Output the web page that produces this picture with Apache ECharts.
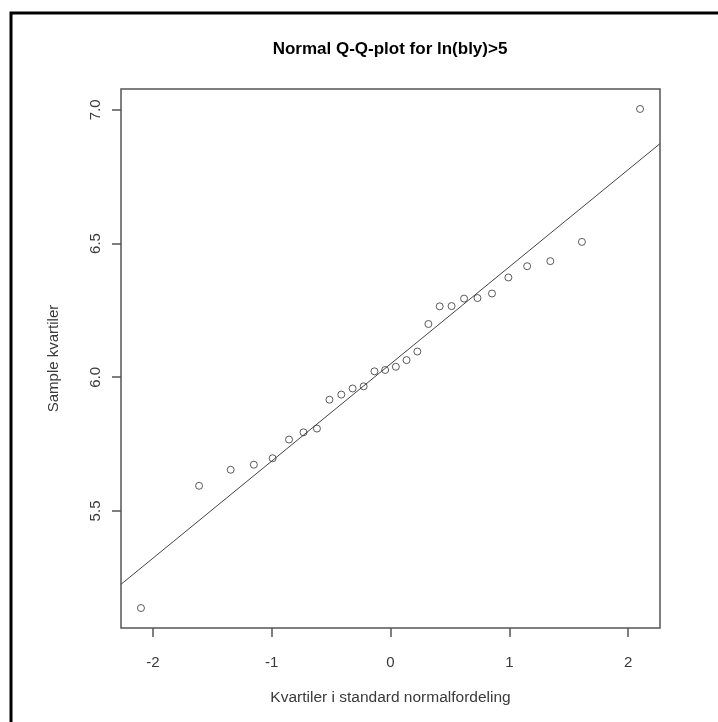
<!DOCTYPE html>
<html>
<head>
<meta charset="utf-8">
<title>Normal Q-Q-plot for ln(bly)>5</title>
<script src="https://cdn.jsdelivr.net/npm/echarts@6/dist/echarts.min.js"></script>
<style>
  html, body { margin: 0; padding: 0; background: #ffffff; }
  #chart { width: 718px; height: 722px; }
</style>
</head>
<body>
<div id="chart"></div>
<script>
// Theoretical normal quantiles for n = 28 observations
const theoreticalQuantiles = [
  -2.100, -1.611, -1.345, -1.150, -0.992, -0.854, -0.732, -0.619, -0.514, -0.414,
  -0.319, -0.226, -0.135, -0.045, 0.045, 0.135, 0.226, 0.319, 0.414, 0.514,
  0.619, 0.732, 0.854, 0.992, 1.150, 1.345, 1.611, 2.100
];
// Sorted sample values of ln(bly) above 5
const sampleQuantiles = [
  5.137, 5.594, 5.654, 5.673, 5.697, 5.767, 5.794, 5.808, 5.916, 5.935,
  5.958, 5.966, 6.022, 6.027, 6.039, 6.064, 6.096, 6.199, 6.265, 6.266,
  6.294, 6.296, 6.313, 6.373, 6.415, 6.434, 6.506, 7.003
];
const xTicks = [-2, -1, 0, 1, 2];
const yTicks = [5.5, 6.0, 6.5, 7.0];

const titleText = 'Normal Q-Q-plot for ln(bly)>5';
const xName = 'Kvartiler i standard normalfordeling';
const yName = 'Sample kvartiler';

// Axis limits with a 4% margin around the data range
function paddedRange(values) {
  const lo = Math.min(...values), hi = Math.max(...values);
  const pad = (hi - lo) * 0.04;
  return [lo - pad, hi + pad];
}
const [xMin, xMax] = paddedRange(theoreticalQuantiles);
const [yMin, yMax] = paddedRange(sampleQuantiles);

// Reference line through the first and third quartiles (qqline)
function quantile(sorted, p) {
  const h = (sorted.length - 1) * p;
  const lo = Math.floor(h);
  return sorted[lo] + (h - lo) * (sorted[lo + 1] - sorted[lo]);
}
const q1 = quantile(sampleQuantiles, 0.25);
const q3 = quantile(sampleQuantiles, 0.75);
const z = 0.6744898;
const slope = (q3 - q1) / (2 * z);
const intercept = q1 + z * slope;
const refLine = [xMin, xMax].map(x => [x, intercept + slope * x]);

const points = theoreticalQuantiles.map((x, i) => [x, sampleQuantiles[i]]);

const FONT = "'Liberation Sans', Arial, sans-serif";
const INK = '#3a3a3a';

const chart = echarts.init(document.getElementById('chart'), null, { renderer: 'canvas' });
chart.setOption({
  backgroundColor: '#ffffff',
  animation: false,
  title: {
    text: titleText,
    left: 385,
    top: 36,
    textAlign: 'center',
    textStyle: { fontFamily: FONT, fontSize: 17, fontWeight: 'bold', color: '#000000' }
  },
  graphic: [{
    type: 'rect',
    shape: { x: 11, y: 13, width: 900, height: 900 },
    style: { fill: null, stroke: '#000000', lineWidth: 3 },
    silent: true
  }],
  grid: {
    left: 121, top: 89, width: 539, height: 539,
    show: true, borderColor: '#555555', borderWidth: 1.5,
    backgroundColor: 'transparent'
  },
  xAxis: {
    type: 'value',
    min: xMin, max: xMax,
    name: xName,
    nameLocation: 'middle',
    nameGap: 62,
    nameTextStyle: { fontFamily: FONT, fontSize: 15.5, color: INK },
    axisLine: { show: false, onZero: false },
    splitLine: { show: false },
    axisTick: { show: true, customValues: xTicks, length: 9, inside: false,
                lineStyle: { color: '#555555', width: 1.5 } },
    axisLabel: { customValues: xTicks, margin: 27, fontFamily: FONT, fontSize: 15, color: INK }
  },
  yAxis: {
    type: 'value',
    min: yMin, max: yMax,
    name: yName,
    nameLocation: 'middle',
    nameGap: 60,
    nameTextStyle: { fontFamily: FONT, fontSize: 15, color: INK },
    axisLine: { show: false, onZero: false },
    splitLine: { show: false },
    axisTick: { show: true, customValues: yTicks, length: 9, inside: false,
                lineStyle: { color: '#555555', width: 1.5 } },
    axisLabel: { customValues: yTicks, rotate: 90, margin: 18, fontFamily: FONT, fontSize: 15,
                 color: INK, formatter: v => v.toFixed(1) }
  },
  series: [
    {
      type: 'line',
      data: refLine,
      symbol: 'none',
      lineStyle: { color: '#444444', width: 1 },
      silent: true,
      z: 2
    },
    {
      type: 'scatter',
      data: points,
      symbol: 'circle',
      symbolSize: 7,
      itemStyle: { color: 'rgba(255,255,255,0)', borderColor: '#333333', borderWidth: 1 },
      z: 3
    }
  ]
});
</script>
</body>
</html>
